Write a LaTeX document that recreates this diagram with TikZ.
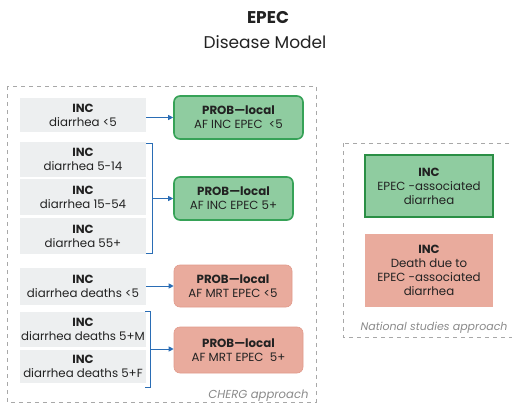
\documentclass[tikz,border=0pt]{standalone}
\usepackage{fontspec}
\setmainfont{Poppins}
\usetikzlibrary{arrows.meta}
\definecolor{grayfill}{HTML}{EDEFF0}
\definecolor{greenfill}{HTML}{8FCCA0}
\definecolor{greenline}{HTML}{36A257}
\definecolor{greendark}{HTML}{2A8F45}
\definecolor{redfill}{HTML}{E9AB9D}
\definecolor{redline}{HTML}{E19A8B}
\definecolor{linkblue}{HTML}{2A6DB5}
\definecolor{dashgray}{HTML}{A8A8A8}
\definecolor{notegray}{HTML}{8A8A8A}
\definecolor{textdark}{HTML}{222222}
\tikzset{
  txt/.style={font=\fontsize{11.8}{14}\selectfont, text=textdark, align=center},
  incbox/.style={txt, fill=grayfill, draw=none, minimum width=126pt, inner sep=0pt},
  probgreen/.style={txt, fill=greenfill, draw=greenline, line width=1.6pt, rounded corners=6pt, inner sep=0pt},
  probred/.style={txt, fill=redfill, draw=redline, line width=0.6pt, rounded corners=6pt, inner sep=0pt},
  natgreen/.style={txt, fill=greenfill, draw=greendark, line width=1.8pt, inner sep=0pt, minimum width=128pt},
  natred/.style={txt, fill=redfill, draw=none, inner sep=0pt, minimum width=128pt},
  group/.style={draw=dashgray, line width=0.7pt, dash pattern=on 4pt off 4pt},
  link/.style={draw=linkblue, line width=1pt, -{Triangle[length=5pt,width=5pt]}},
  brace/.style={draw=linkblue, line width=1pt},
  note/.style={font=\fontsize{11.6}{14}\selectfont\itshape, text=notegray}
}
\begin{document}
\begin{tikzpicture}[x=1pt,y=-1pt]
\useasboundingbox (0,0) rectangle (512,407);

% title
\node[font=\fontsize{17}{20}\selectfont\bfseries, text=textdark] (title) at (268,18) {EPEC};
\node[font=\fontsize{17}{20}\selectfont, text=textdark] (subtitle) at (265,42) {Disease Model};

% group frames
\draw[group] (7,86) rectangle (316,402);
\draw[group] (343,143) rectangle (520,337);
\node[note, anchor=east] (cherg) at (312,396) {CHERG approach};
\node[note, anchor=east, font=\fontsize{11}{13}\selectfont\itshape] (national) at (511,328) {National studies approach};

% incidence inputs
\node[incbox, minimum height=34pt] (i1) at (83,115) {\textbf{INC}\\diarrhea <5};
\node[incbox, minimum height=35pt] (i2) at (83,159.5) {\textbf{INC}\\diarrhea 5-14};
\node[incbox, minimum height=36pt] (i3) at (83,197) {\textbf{INC}\\diarrhea 15-54};
\node[incbox, minimum height=36pt] (i4) at (83,236) {\textbf{INC}\\diarrhea 55+};
\node[incbox, minimum height=37pt] (i5) at (83,286.5) {\textbf{INC}\\diarrhea deaths <5};
\node[incbox, minimum height=35pt] (i6) at (83,329.5) {\textbf{INC}\\diarrhea deaths 5+M};
\node[incbox, minimum height=33pt] (i7) at (83,366.5) {\textbf{INC}\\diarrhea deaths 5+F};

% local probabilities
\node[probgreen, minimum width=129pt, minimum height=43pt] (p1) at (238.5,117.5) {\textbf{PROB—local}\\AF INC EPEC \ <5};
\node[probgreen, minimum width=119pt, minimum height=43pt] (p2) at (233.5,198.5) {\textbf{PROB—local}\\AF INC EPEC 5+};
\node[probred, minimum width=118pt, minimum height=42pt] (p3) at (233,286) {\textbf{PROB—local}\\AF MRT EPEC <5};
\node[probred, minimum width=129pt, minimum height=46pt] (p4) at (238.5,350) {\textbf{PROB—local}\\AF MRT EPEC \ 5+};

% national study outcomes
\node[natgreen, minimum height=62pt] (n1) at (429,186) {\textbf{INC}\\EPEC -associated\\diarrhea};
\node[natred, minimum height=73pt] (n2) at (429,270.5) {\textbf{INC}\\Death due to\\EPEC -associated\\diarrhea};

% brackets grouping age bands
\coordinate (b1t) at (152,143);
\coordinate (b1b) at (152,253);
\coordinate (b1m) at (152,198.5);
\draw[brace] (146,143) -- (b1t) -- (b1b) -- (146,253);
\coordinate (b2t) at (150,311);
\coordinate (b2b) at (150,387);
\coordinate (b2m) at (150,349);
\draw[brace] (145,311) -- (b2t) -- (b2b) -- (145,387);

% connectors
\draw[link] (i1.east |- p1.west) -- (p1.west);
\draw[link] (b1m) -- (p2.west |- b1m);
\draw[link] (i5.east |- p3.west) -- (p3.west);
\draw[link] (b2m) -- (p4.west |- b2m);
\end{tikzpicture}
\end{document}
